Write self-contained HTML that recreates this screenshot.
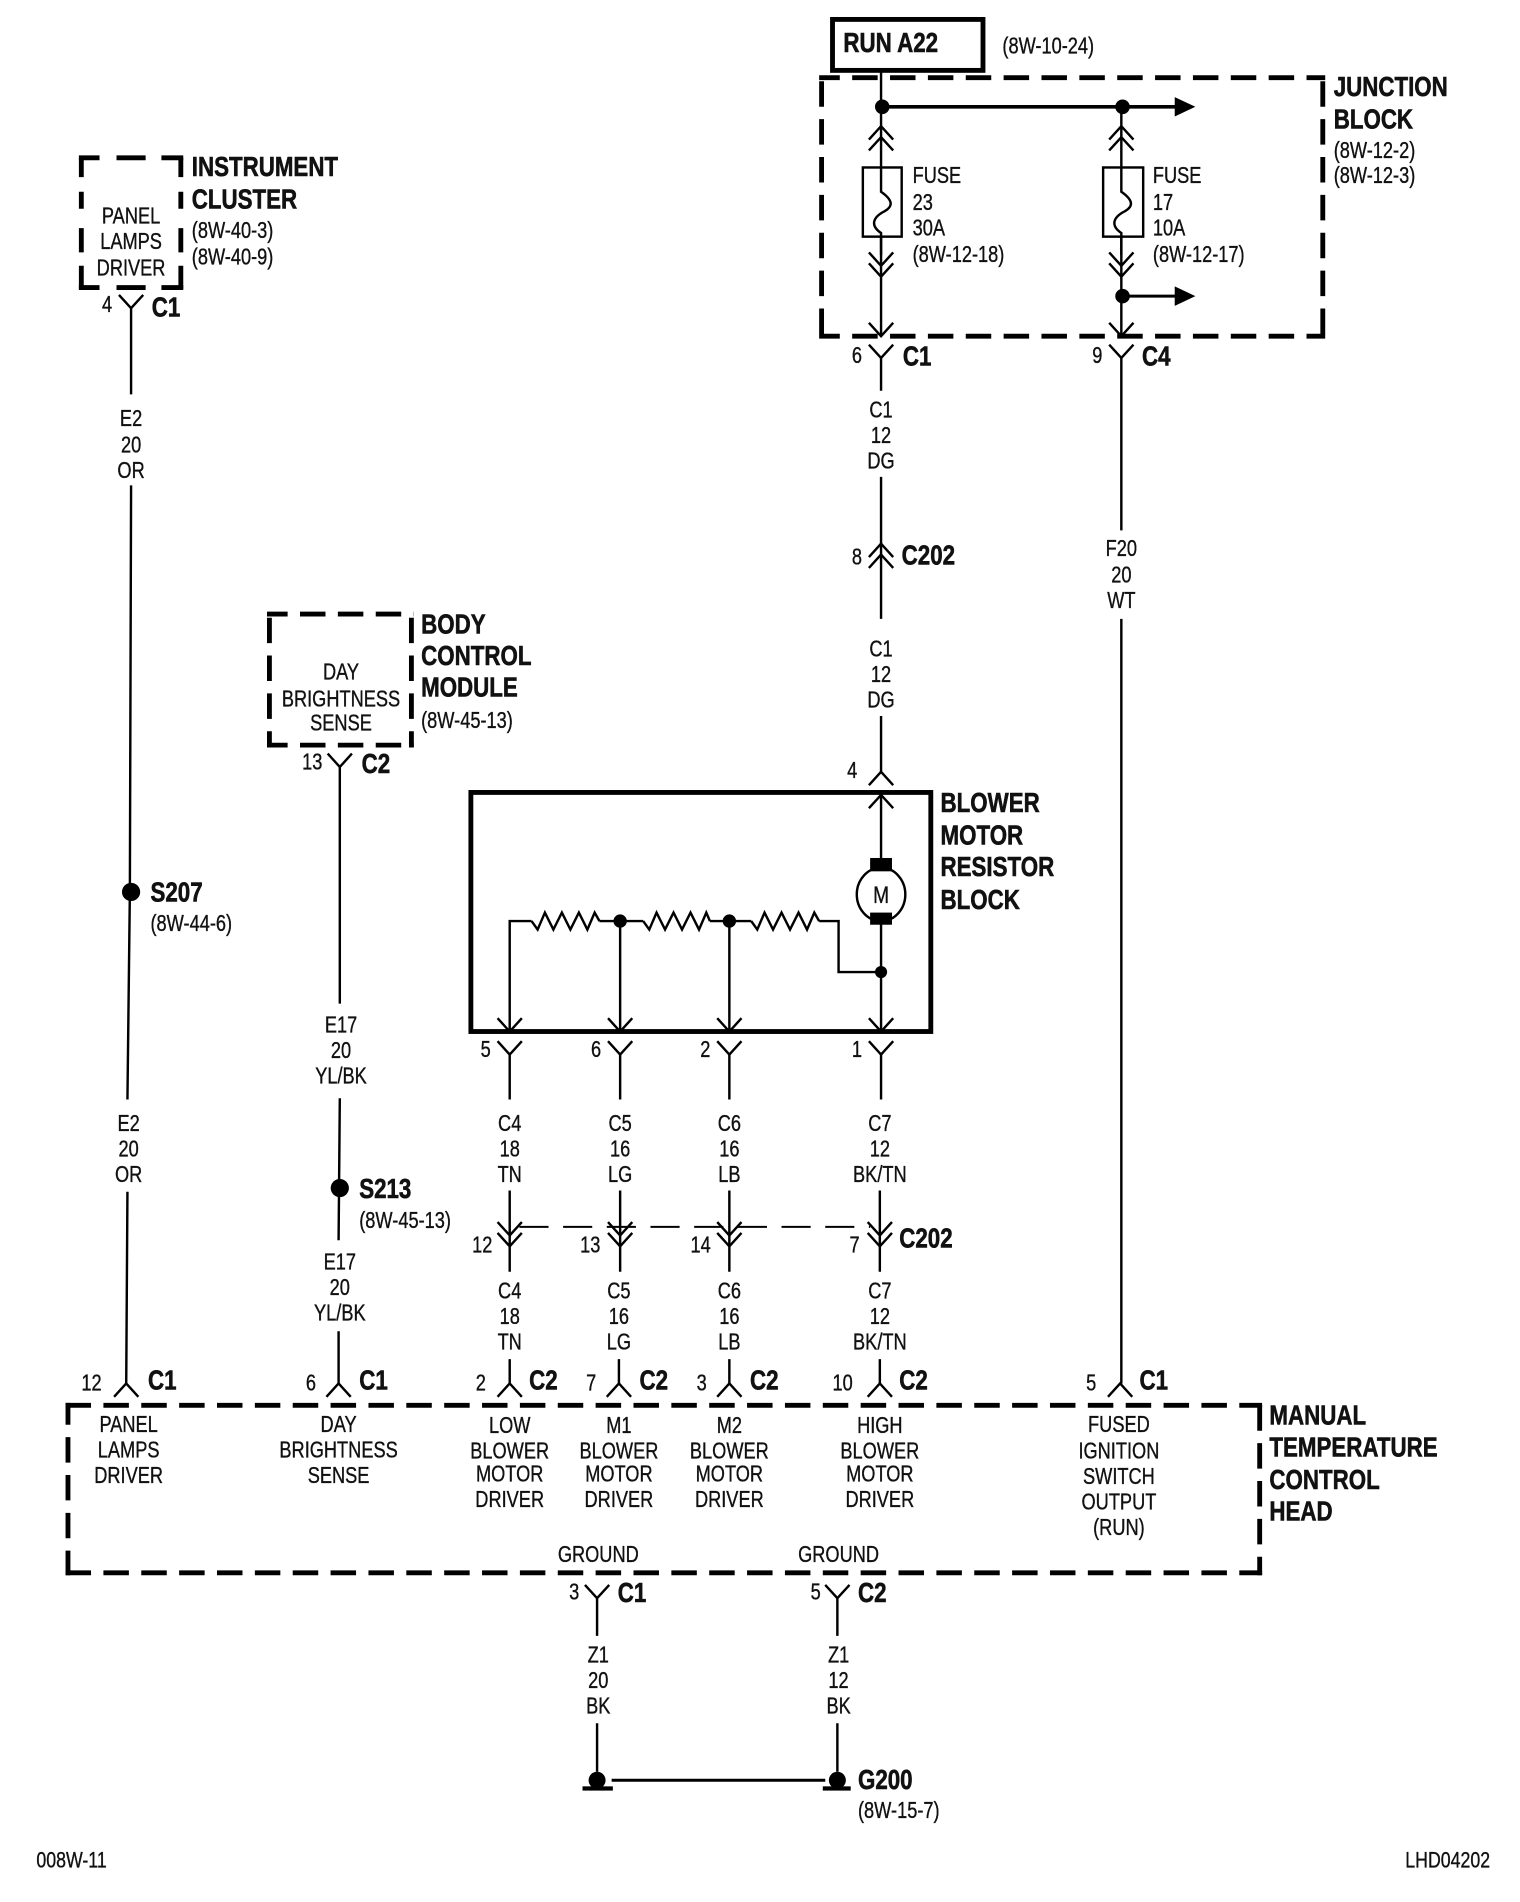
<!DOCTYPE html>
<html><head><meta charset="utf-8"><style>
html,body{margin:0;padding:0;background:#fff}
svg{display:block}
text{font-family:"Liberation Sans",Arial,sans-serif;fill:#111;font-size:19px;transform-box:fill-box;transform:scaleX(.79);stroke:#111;stroke-width:.3px}
.m{text-anchor:middle;transform-origin:50% 50%}
.s{transform-origin:0 50%}
.b{font-weight:bold;font-size:23px;stroke-width:.5px;transform:translateY(-1px) scaleX(.8)}
.f{font-size:18.5px}
.w{fill:none;stroke:#000;stroke-width:2}
.d{fill:none;stroke:#000;stroke-width:4;stroke-dasharray:21 10.2}
</style></head><body>
<svg width="1520" height="1902" viewBox="0 0 1252.5 1567.3" xmlns="http://www.w3.org/2000/svg">
<defs>
<path id="v" class="w" d="M-10,-11 L0,0 L10,-11"/>
<path id="a" class="w" d="M-10,11 L0,0 L10,11"/>
</defs>

<!-- RUN A22 -->
<rect x="686" y="16" width="124" height="42" fill="none" stroke="#000" stroke-width="4"/>
<text class="s b" x="695" y="44">RUN A22</text>
<text class="s" x="826" y="44">(8W-10-24)</text>

<!-- Junction block -->
<path class="d" stroke-dashoffset="4" d="M675,64 H1092"/>
<path class="d" stroke-dashoffset="4" d="M675,277 H1092"/>
<path class="d" stroke-dashoffset="-3" d="M677,64 V277"/>
<path class="d" stroke-dashoffset="-3" d="M1090,64 V277"/>
<text class="s b" x="1099" y="80">JUNCTION</text>
<text class="s b" x="1099" y="107">BLOCK</text>
<text class="s" x="1099" y="130">(8W-12-2)</text>
<text class="s" x="1099" y="151">(8W-12-3)</text>
<path class="w" d="M726,58 V277 M924,88 V277"/>
<path fill="none" stroke="#000" stroke-width="3" d="M727,88 H970"/>
<path fill="none" stroke="#000" stroke-width="2.5" d="M925,244 H970"/>
<path d="M968,80 L985,88 L968,96Z M968,236 L985,244 L968,252Z"/>
<circle cx="727" cy="88" r="6"/><circle cx="925" cy="88" r="6"/><circle cx="925" cy="244" r="6"/>
<use href="#a" x="726" y="104"/><use href="#a" x="726" y="113"/>
<use href="#a" x="924" y="104"/><use href="#a" x="924" y="113"/>
<rect x="711" y="138" width="32" height="57" fill="#fff" stroke="#000" stroke-width="2"/>
<rect x="909" y="138" width="33" height="57" fill="#fff" stroke="#000" stroke-width="2"/>
<path class="w" d="M726,138 V158 C736,165 736,170 729,174 C719,179 717,186 726,192 V210"/>
<path class="w" d="M924,138 V158 C934,165 934,170 927,174 C917,179 915,186 924,192 V210"/>
<use href="#v" x="726" y="219"/><use href="#v" x="726" y="228"/>
<use href="#v" x="924" y="219"/><use href="#v" x="924" y="228"/>
<use href="#v" x="726" y="277"/><use href="#v" x="924" y="277"/>
<text class="s" x="752" y="151">FUSE</text><text class="s" x="752" y="173">23</text><text class="s" x="752" y="194">30A</text><text class="s" x="752" y="216">(8W-12-18)</text>
<text class="s" x="950" y="151">FUSE</text><text class="s" x="950" y="173">17</text><text class="s" x="950" y="194">10A</text><text class="s" x="950" y="216">(8W-12-17)</text>
<use href="#v" x="726" y="295"/><use href="#v" x="924" y="295"/>
<path class="w" d="M726,295 V322 M924,295 V437 M924,510 V1140"/>
<text class="s" x="702" y="299">6</text><text class="s b" x="744" y="302">C1</text>
<text class="s" x="900" y="299">9</text><text class="s b" x="941" y="302">C4</text>
<text class="m" x="726" y="344">C1</text><text class="m" x="726" y="365">12</text><text class="m" x="726" y="386">DG</text>
<text class="m" x="924" y="458">F20</text><text class="m" x="924" y="480">20</text><text class="m" x="924" y="501">WT</text>
<path class="w" d="M726,393 V510"/>
<use href="#a" x="726" y="448"/><use href="#a" x="726" y="457"/>
<text class="s" x="702" y="465">8</text><text class="s b" x="743" y="466">C202</text>
<text class="m" x="726" y="541">C1</text><text class="m" x="726" y="562">12</text><text class="m" x="726" y="583">DG</text>
<path class="w" d="M726,590 V636"/>
<use href="#a" x="726" y="636"/>
<text class="s" x="698" y="641">4</text>

<!-- Blower -->
<rect x="388" y="653" width="379" height="197" fill="none" stroke="#000" stroke-width="4"/>
<text class="s b" x="775" y="670">BLOWER</text><text class="s b" x="775" y="697">MOTOR</text><text class="s b" x="775" y="723">RESISTOR</text><text class="s b" x="775" y="750">BLOCK</text>
<use href="#a" x="726" y="655"/>
<path class="w" d="M726,655 V710 M726,760 V850 M420,850 V759 H438 M511,850 V759 M601,850 V759 M494,759 H530 M585,759 H619 M675,759 H691 V801 H726"/>
<path class="w" d="M438,759 L443,766 L449,752 L456,766 L463,752 L470,766 L477,752 L484,766 L490,752 L494,759"/>
<path class="w" d="M530,759 L535,766 L541,752 L548,766 L555,752 L562,766 L569,752 L576,766 L582,752 L585,759"/>
<path class="w" d="M619,759 L624,766 L630,752 L637,766 L644,752 L651,766 L658,752 L665,766 L671,752 L675,759"/>
<circle cx="511" cy="759" r="5.5"/><circle cx="601" cy="759" r="5.5"/><circle cx="726" cy="801" r="5"/>
<ellipse cx="726" cy="737" rx="20" ry="22" fill="#fff" stroke="#000" stroke-width="2"/>
<rect x="717" y="707" width="18" height="11"/><rect x="717" y="752" width="18" height="10"/>
<text class="m" x="726" y="744" style="font-size:20px">M</text>
<use href="#v" x="420" y="850"/><use href="#v" x="511" y="850"/><use href="#v" x="601" y="850"/><use href="#v" x="726" y="850"/>
<use href="#v" x="420" y="869"/><use href="#v" x="511" y="869"/><use href="#v" x="601" y="869"/><use href="#v" x="726" y="869"/>
<path class="w" d="M420,869 V906 M511,869 V906 M601,869 V906 M726,869 V906"/>
<text class="s" x="396" y="871">5</text><text class="s" x="487" y="871">6</text><text class="s" x="577" y="871">2</text><text class="s" x="702" y="871">1</text>
<text class="m" x="420" y="932">C4</text><text class="m" x="420" y="953">18</text><text class="m" x="420" y="974">TN</text>
<text class="m" x="511" y="932">C5</text><text class="m" x="511" y="953">16</text><text class="m" x="511" y="974">LG</text>
<text class="m" x="601" y="932">C6</text><text class="m" x="601" y="953">16</text><text class="m" x="601" y="974">LB</text>
<text class="m" x="725" y="932">C7</text><text class="m" x="725" y="953">12</text><text class="m" x="725" y="974">BK/TN</text>

<!-- C202 lower -->
<path class="w" d="M420,981 V1048 M511,981 V1048 M601,981 V1048 M725,981 V1048"/>
<path fill="none" stroke="#000" stroke-width="1.6" stroke-dasharray="24 12" d="M428,1011 H717"/>
<use href="#v" x="420" y="1018"/><use href="#v" x="511" y="1018"/><use href="#v" x="601" y="1018"/><use href="#v" x="725" y="1018"/>
<use href="#v" x="420" y="1027"/><use href="#v" x="511" y="1027"/><use href="#v" x="601" y="1027"/><use href="#v" x="725" y="1027"/>
<text class="s" x="389" y="1032">12</text><text class="s" x="478" y="1032">13</text><text class="s" x="569" y="1032">14</text><text class="s" x="700" y="1032">7</text>
<text class="s b" x="741" y="1029">C202</text>
<text class="m" x="420" y="1070">C4</text><text class="m" x="420" y="1091">18</text><text class="m" x="420" y="1112">TN</text>
<text class="m" x="510" y="1070">C5</text><text class="m" x="510" y="1091">16</text><text class="m" x="510" y="1112">LG</text>
<text class="m" x="601" y="1070">C6</text><text class="m" x="601" y="1091">16</text><text class="m" x="601" y="1112">LB</text>
<text class="m" x="725" y="1070">C7</text><text class="m" x="725" y="1091">12</text><text class="m" x="725" y="1112">BK/TN</text>
<path class="w" d="M420,1120 V1140 M510,1120 V1140 M601,1120 V1140 M725,1120 V1140"/>

<!-- Instrument cluster -->
<path class="d" style="stroke-dasharray:17 14 24 13 20" d="M65,130 H151"/>
<path class="d" style="stroke-dasharray:17 14 24 13 20" d="M65,237 H151"/>
<path class="d" style="stroke-dasharray:16 12 14 16 20 11 20" d="M67,130 V238"/>
<path class="d" style="stroke-dasharray:16 12 14 16 20 11 20" d="M149,130 V238"/>
<text class="m" x="108" y="184">PANEL</text><text class="m" x="108" y="205">LAMPS</text><text class="m" x="108" y="227">DRIVER</text>
<text class="s b" x="158" y="146">INSTRUMENT</text><text class="s b" x="158" y="173">CLUSTER</text>
<text class="s" x="158" y="196">(8W-40-3)</text><text class="s" x="158" y="218">(8W-40-9)</text>
<use href="#v" x="108" y="254"/>
<text class="s" x="84" y="257">4</text><text class="s b" x="125" y="262">C1</text>
<path class="w" d="M108,254 V325 M108,400 L107,735 L105,906 M105,982 L104,1140"/>
<text class="m" x="108" y="351">E2</text><text class="m" x="108" y="373">20</text><text class="m" x="108" y="394">OR</text>
<circle cx="108" cy="735" r="7.5"/>
<text class="s b" x="124" y="744">S207</text><text class="s" x="124" y="767">(8W-44-6)</text>
<text class="m" x="106" y="932">E2</text><text class="m" x="106" y="953">20</text><text class="m" x="106" y="974">OR</text>

<!-- BCM -->
<path class="d" stroke-dashoffset="4" d="M220,506 H341"/>
<path class="d" stroke-dashoffset="4" d="M220,614 H341"/>
<path class="d" stroke-dashoffset="-3" d="M222,506 V616"/>
<path class="d" stroke-dashoffset="-3" d="M339,506 V616"/>
<text class="m" x="281" y="560">DAY</text><text class="m" x="281" y="582">BRIGHTNESS</text><text class="m" x="281" y="602">SENSE</text>
<text class="s b" x="347" y="523">BODY</text><text class="s b" x="347" y="549">CONTROL</text><text class="s b" x="347" y="575">MODULE</text><text class="s" x="347" y="600">(8W-45-13)</text>
<use href="#v" x="280" y="632"/>
<text class="s" x="249" y="634">13</text><text class="s b" x="298" y="638">C2</text>
<path class="w" d="M280,632 V827 M280,905 L279,1022 M279,1097 V1140"/>
<text class="m" x="281" y="851">E17</text><text class="m" x="281" y="872">20</text><text class="m" x="281" y="893">YL/BK</text>
<circle cx="280" cy="979" r="7.5"/>
<text class="s b" x="296" y="988">S213</text><text class="s" x="296" y="1012">(8W-45-13)</text>
<text class="m" x="280" y="1046">E17</text><text class="m" x="280" y="1067">20</text><text class="m" x="280" y="1088">YL/BK</text>

<!-- Manual temperature control head -->
<path class="d" d="M54,1158 H1040"/>
<path class="d" d="M54,1296 H1040"/>
<path class="d" stroke-dashoffset="3" d="M56,1156 V1298"/>
<path class="d" stroke-dashoffset="-2" d="M1038,1156 V1298"/>
<use href="#a" x="104" y="1140"/><use href="#a" x="279" y="1140"/><use href="#a" x="420" y="1140"/><use href="#a" x="510" y="1140"/><use href="#a" x="601" y="1140"/><use href="#a" x="725" y="1140"/><use href="#a" x="923" y="1140"/>
<text class="s" x="67" y="1146">12</text><text class="b s" x="122" y="1146">C1</text>
<text class="s" x="252" y="1146">6</text><text class="b s" x="296" y="1146">C1</text>
<text class="s" x="392" y="1146">2</text><text class="b s" x="436" y="1146">C2</text>
<text class="s" x="483" y="1146">7</text><text class="b s" x="527" y="1146">C2</text>
<text class="s" x="574" y="1146">3</text><text class="b s" x="618" y="1146">C2</text>
<text class="s" x="686" y="1146">10</text><text class="b s" x="741" y="1146">C2</text>
<text class="s" x="895" y="1146">5</text><text class="b s" x="939" y="1146">C1</text>
<text class="m" x="106" y="1180">PANEL</text><text class="m" x="106" y="1201">LAMPS</text><text class="m" x="106" y="1222">DRIVER</text>
<text class="m" x="279" y="1180">DAY</text><text class="m" x="279" y="1201">BRIGHTNESS</text><text class="m" x="279" y="1222">SENSE</text>
<text class="m" x="420" y="1181">LOW</text><text class="m" x="420" y="1202">BLOWER</text><text class="m" x="420" y="1221">MOTOR</text><text class="m" x="420" y="1242">DRIVER</text>
<text class="m" x="510" y="1181">M1</text><text class="m" x="510" y="1202">BLOWER</text><text class="m" x="510" y="1221">MOTOR</text><text class="m" x="510" y="1242">DRIVER</text>
<text class="m" x="601" y="1181">M2</text><text class="m" x="601" y="1202">BLOWER</text><text class="m" x="601" y="1221">MOTOR</text><text class="m" x="601" y="1242">DRIVER</text>
<text class="m" x="725" y="1181">HIGH</text><text class="m" x="725" y="1202">BLOWER</text><text class="m" x="725" y="1221">MOTOR</text><text class="m" x="725" y="1242">DRIVER</text>
<text class="m" x="922" y="1180">FUSED</text><text class="m" x="922" y="1202">IGNITION</text><text class="m" x="922" y="1223">SWITCH</text><text class="m" x="922" y="1244">OUTPUT</text><text class="m" x="922" y="1265">(RUN)</text>
<text class="m" x="493" y="1287">GROUND</text><text class="m" x="691" y="1287">GROUND</text>
<text class="s b" x="1046" y="1175">MANUAL</text><text class="s b" x="1046" y="1201">TEMPERATURE</text><text class="s b" x="1046" y="1228">CONTROL</text><text class="s b" x="1046" y="1254">HEAD</text>

<!-- Grounds -->
<use href="#v" x="492" y="1317"/><use href="#v" x="690" y="1317"/>
<path class="w" d="M492,1317 V1348 M690,1317 V1348 M492,1420 V1460 M690,1420 V1460"/>
<text class="s" x="469" y="1318">3</text><text class="b s" x="509" y="1321">C1</text>
<text class="s" x="668" y="1318">5</text><text class="b s" x="707" y="1321">C2</text>
<text class="m" x="493" y="1370">Z1</text><text class="m" x="493" y="1391">20</text><text class="m" x="493" y="1412">BK</text>
<text class="m" x="691" y="1370">Z1</text><text class="m" x="691" y="1391">12</text><text class="m" x="691" y="1412">BK</text>
<circle cx="492" cy="1467" r="7"/><circle cx="690" cy="1467" r="7"/>
<rect x="480" y="1472" width="25" height="3.5"/><rect x="678" y="1472" width="23" height="3.5"/>
<path fill="none" stroke="#000" stroke-width="2.5" d="M504,1467 H680"/>
<text class="s b" x="707" y="1475">G200</text><text class="s" x="707" y="1498">(8W-15-7)</text>

<text class="s f" x="30" y="1539">008W-11</text>
<text class="s f" x="1158" y="1539">LHD04202</text>
</svg>
</body></html>
